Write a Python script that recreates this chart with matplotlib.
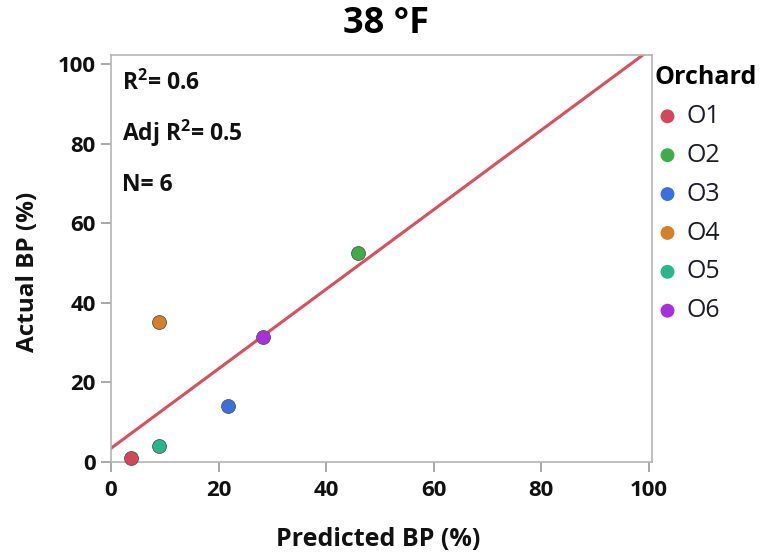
import numpy as np
import matplotlib
matplotlib.use("Agg")
import matplotlib.pyplot as plt

# Orchard data at 38 °F
orchards = ["O1", "O2", "O3", "O4", "O5", "O6"]
predicted_bp = [3.7, 45.9, 21.8, 8.9, 9.0, 28.3]
actual_bp = [1.0, 52.5, 14.2, 35.1, 4.0, 31.4]
colors = ["#d3475a", "#3dae47", "#3b6fdc", "#d47f2a", "#29b68c", "#a72fdc"]

x_ticks = [0, 20, 40, 60, 80, 100]
y_ticks = [0, 20, 40, 60, 80, 100]

x = np.array(predicted_bp)
y = np.array(actual_bp)
slope, intercept = np.polyfit(x, y, 1)
n = len(x)
r2 = np.corrcoef(x, y)[0, 1] ** 2
adj_r2 = 1 - (1 - r2) * (n - 1) / (n - 2)

plt.rcParams["font.family"] = ["Open Sans", "DejaVu Sans"]
plt.rcParams["mathtext.fontset"] = "custom"
plt.rcParams["mathtext.rm"] = "Open Sans"
plt.rcParams["mathtext.bf"] = "Open Sans:bold"

W, H = 767, 554
fig = plt.figure(figsize=(W / 100, H / 100), dpi=100)
ax = fig.add_axes([111 / W, 1 - 462 / H, (652 - 111) / W, (462 - 55) / H])

ax.set_xlim(0, 100.6)
ax.set_ylim(0, 102.3)

# fitted regression line
xs = np.array([0, 100.6])
ax.plot(xs, slope * xs + intercept, color="#d94f5c", lw=2.2, zorder=2)

for name, px, py, c in zip(orchards, predicted_bp, actual_bp, colors):
    ax.scatter(px, py, s=100, color=c, edgecolor="#555555", linewidth=0.6,
               label=name, zorder=3, clip_on=False)

for sp in ax.spines.values():
    sp.set_color("#b4b4b4")
    sp.set_linewidth(1.2)

ax.set_xticks(x_ticks)
ax.set_yticks(y_ticks)
ax.tick_params(axis="both", colors="#9a9a9a", length=7, width=1.2,
               labelcolor="#111111", labelsize=16)
ax.tick_params(axis="x", pad=6)
ax.tick_params(axis="y", pad=4)
for lab in ax.get_xticklabels() + ax.get_yticklabels():
    lab.set_fontweight("bold")

ax.set_xlabel("Predicted BP (%)", fontsize=18, fontweight="bold", color="#111111")
ax.set_ylabel("Actual BP (%)", fontsize=17.5, fontweight="bold", color="#111111")
ax.xaxis.set_label_coords((378 - 111) / 541, (462 - 540) / 407)
ax.xaxis.label.set_va("center")
ax.yaxis.set_label_coords((28 - 111) / 541, (462 - 272) / 407)
ax.yaxis.label.set_va("center")

fig.text(386 / W, 1 - 24 / H, "38 °F", fontsize=26, fontweight="bold",
         ha="center", va="center", color="#000000")

stat_kw = dict(transform=ax.transAxes, fontsize=16.5, fontweight="bold",
               va="center", ha="left", color="#111111")
ax.text(0.02, (462 - 83) / 407, r"R$^{\mathbf{2}}$= " + f"{r2:.1f}", **stat_kw)
ax.text(0.02, (462 - 133) / 407, r"Adj R$^{\mathbf{2}}$= " + f"{adj_r2:.1f}", **stat_kw)
ax.text(0.02, (462 - 185) / 407, f"N= {n}", **stat_kw)

leg = ax.legend(title="Orchard", loc="upper left",
                bbox_to_anchor=(655 / W, 1 - 65 / H),
                bbox_transform=fig.transFigure, frameon=False,
                fontsize=18, title_fontproperties={"weight": "bold", "size": 18},
                handletextpad=0.25, labelspacing=0.555, borderaxespad=0,
                borderpad=0, handlelength=1.0, markerscale=1.0)
leg._legend_box.align = "left"
for t in leg.get_texts():
    t.set_color("#1a1a2a")
for h in leg.legend_handles:
    h.set_edgecolor("none")

fig.savefig("out.png", dpi=100)
